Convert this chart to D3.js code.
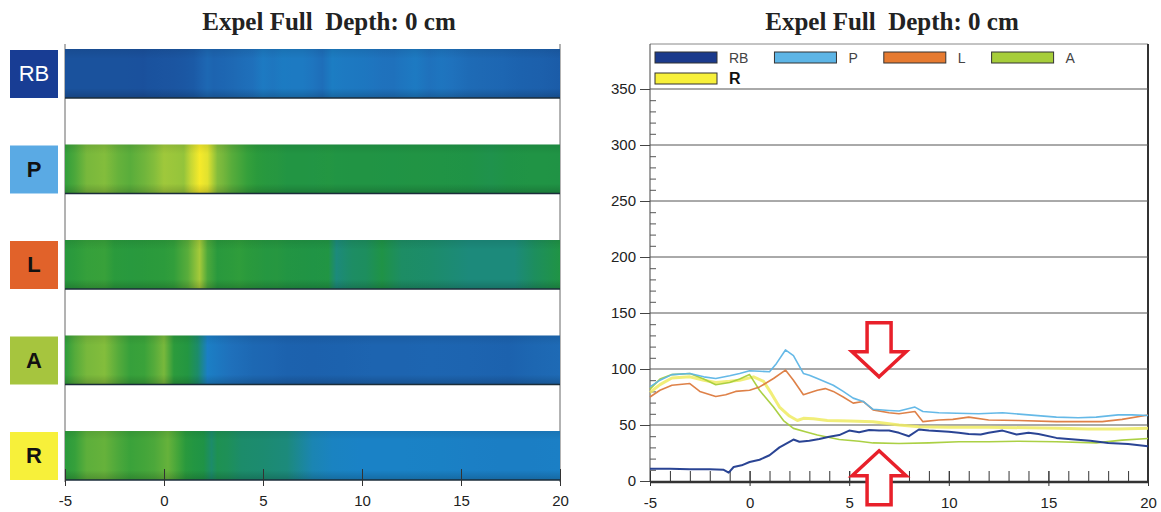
<!DOCTYPE html>
<html>
<head>
<meta charset="utf-8">
<script src="https://cdn.jsdelivr.net/npm/d3@7"></script>
<style>
  html, body { margin: 0; padding: 0; background: #fff; }
  svg { display: block; }
  text { font-family: Arial, "Liberation Sans", sans-serif; }
  .title { font-family: "Liberation Serif", "Times New Roman", serif; font-weight: bold; white-space: pre; }
</style>
</head>
<body>
<svg id="chart" width="1161" height="512"></svg>
<script>
// ---------------- DATA ----------------
const TITLE = "Expel Full  Depth: 0 cm";
const categories = ["RB", "P", "L", "A", "R"];
const xTicks = [-5, 0, 5, 10, 15, 20];
const yTicks = [0, 50, 100, 150, 200, 250, 300, 350];

// [depth, value] pairs
const RB = [[-5,11],[-4,11],[-3,10.5],[-2,10.5],[-1.3,10],[-1.05,7.5],[-0.8,12.5],[-0.4,14],[0,17],[0.5,19],[1,23],[1.5,30],[2,35],[2.2,37],[2.5,35],[3,36],[3.5,37.5],[4,39.5],[4.5,41],[5,45],[5.5,43.5],[6,45.5],[6.5,45],[7,45],[7.5,43],[8,40],[8.5,46],[9,45],[10,44],[10.5,43],[11,42],[11.6,41.5],[12,43],[12.7,45],[13.4,41.5],[14,43],[14.5,42],[15.4,38.5],[16,37.5],[17.1,36],[18,34],[19,33],[20,31]];
const P = [[-5,84],[-4.5,90],[-3.9,95],[-3,96],[-2.3,93],[-1.7,91.5],[-1,94],[-0.5,96],[0,98.5],[0.5,98],[1,97.5],[1.35,105],[1.8,117],[2.2,112],[2.7,96],[3,94.5],[3.4,91.5],[4.2,85.5],[4.7,80],[5.2,74],[5.7,71],[6.2,64],[7,63],[7.5,62.5],[8.3,66],[8.7,62],[9.5,61],[10.4,60.5],[11.5,60],[12.7,61],[14,59],[15.4,57],[16.5,56.5],[17.4,57],[18.5,59],[19.2,59],[20,58.5]];
const L = [[-5,75],[-4.5,81],[-3.9,85.5],[-3,87],[-2.5,80],[-1.7,75.5],[-1.2,77],[-0.7,80],[0,81],[0.5,84],[1.2,91.5],[1.8,99],[2.2,90],[2.7,77],[3.4,81],[3.8,82.5],[4.2,80],[4.7,75],[5.2,69.5],[5.7,71],[6.2,63.5],[7,61],[7.5,60],[8.3,62],[8.7,53],[9.5,54.5],[10.2,55],[11,57],[12,54.5],[13.5,54],[15.4,53],[17.7,53],[18.7,55],[20,59]];
const A = [[-5,82],[-4.5,91],[-3.9,95],[-3,96],[-2.3,91],[-1.7,86],[-1,88],[-0.5,91],[0,95],[0.5,81],[1.2,66],[1.7,54],[2.2,47],[2.8,44],[3.4,41],[4.5,37],[5.5,35.5],[6.2,34],[7.5,33.5],[9,34],[10.5,35],[12,35],[13.5,35.5],[15.4,35],[17.4,34],[18.7,36.5],[20,38]];
const R = [[-5,79],[-4.5,86],[-3.9,92],[-3,93],[-2.3,90],[-1.7,88],[-1,89],[-0.5,90],[0.2,93],[0.7,89],[1.1,78],[1.5,66],[2,58],[2.4,54],[2.7,56],[3.2,55.5],[3.9,54],[5,53.5],[6.2,53],[7.5,50],[8.5,48.5],[10,48],[12,48],[14,47.5],[15.5,47],[17,46.5],[18.5,46.5],[20,47]];

// annotation arrows (tip position in data units)
const arrowTips = [[6.5, 93, "down"], [6.5, 27, "up"]];

// ---------------- STYLE ----------------
const seriesData = { RB, P, L, A, R };
const lineColor = { RB: "#1f3a8e", P: "#5db5e6", L: "#dc7a3e", A: "#a6cd3a", R: "#efeb62" };
const lineWidth = { RB: 2, P: 1.6, L: 1.6, A: 1.6, R: 3 };
const boxColor  = { RB: "#183d94", P: "#5aaae4", L: "#e1622a", A: "#a6c53e", R: "#f7f03a" };
const boxText   = { RB: "#ffffff", P: "#111", L: "#111", A: "#111", R: "#111" };
const legendFill = { RB: "#1b3a8c", P: "#5db5e6", L: "#e67a30", A: "#a6cd3a", R: "#f7f03a" };
const heat = d3.scaleLinear()
  .domain([0, 30, 42, 48, 51, 53.5, 57, 80, 88, 95, 100, 117])
  .range(["#1a4d98", "#1b5aa6", "#1f72bd", "#1a82c6", "#1b86a8", "#1c8b70", "#1f9346", "#2a9a3c", "#3aa23a", "#78b83c", "#b0cf3a", "#f6ea2a"])
  .clamp(true);

const svg = d3.select("#chart");
const defs = svg.append("defs");
const fmt = d => String(d);

// ---------------- LEFT PANEL (heat strips) ----------------
const xL = d3.scaleLinear().domain([-5, 20]).range([65, 560]);
const band = d3.scaleBand().domain(categories).range([49, 480]).paddingInner(0.487).paddingOuter(0);

svg.append("text").attr("class", "title").attr("x", 329).attr("y", 30)
  .attr("text-anchor", "middle").attr("font-size", 25).attr("fill", "#222").text(TITLE);

// frame verticals
svg.append("g").selectAll("line").data(xL.domain()).join("line")
  .attr("x1", d => xL(d)).attr("x2", d => xL(d)).attr("y1", 44).attr("y2", 482)
  .attr("stroke", "#666").attr("stroke-width", 1);

categories.forEach(c => {
  const g = defs.append("linearGradient").attr("id", "g-" + c)
    .attr("x1", "0%").attr("x2", "100%").attr("y1", "0%").attr("y2", "0%");
  seriesData[c].forEach(([xv, v]) => {
    g.append("stop").attr("offset", ((xv - xL.domain()[0]) / (xL.domain()[1] - xL.domain()[0]) * 100) + "%")
      .attr("stop-color", heat(v));
  });
});
const shade = defs.append("linearGradient").attr("id", "shade")
  .attr("x1", "0%").attr("x2", "0%").attr("y1", "0%").attr("y2", "100%");
shade.append("stop").attr("offset", "0%").attr("stop-color", "#000").attr("stop-opacity", 0.08);
shade.append("stop").attr("offset", "20%").attr("stop-color", "#000").attr("stop-opacity", 0);
shade.append("stop").attr("offset", "80%").attr("stop-color", "#000").attr("stop-opacity", 0);
shade.append("stop").attr("offset", "100%").attr("stop-color", "#000").attr("stop-opacity", 0.18);

const strips = svg.append("g").selectAll("g").data(categories).join("g");
strips.append("rect")
  .attr("x", xL(-5)).attr("width", xL(20) - xL(-5))
  .attr("y", d => band(d)).attr("height", band.bandwidth())
  .attr("fill", d => `url(#g-${d})`);
strips.append("rect")
  .attr("x", xL(-5)).attr("width", xL(20) - xL(-5))
  .attr("y", d => band(d)).attr("height", band.bandwidth())
  .attr("fill", "url(#shade)");
strips.append("line")
  .attr("x1", xL(-5)).attr("x2", xL(20))
  .attr("y1", d => band(d) + band.bandwidth()).attr("y2", d => band(d) + band.bandwidth())
  .attr("stroke", "#1b2d3a").attr("stroke-width", 1.5);

// label boxes
const boxes = svg.append("g").selectAll("g").data(categories).join("g");
boxes.append("rect").attr("x", 10).attr("width", 48)
  .attr("y", d => band(d) + 1).attr("height", band.bandwidth() - 1)
  .attr("fill", d => boxColor[d]);
boxes.append("text").attr("x", 34).attr("y", d => band(d) + band.bandwidth() / 2)
  .attr("dy", "0.36em").attr("text-anchor", "middle")
  .attr("font-size", 22).attr("font-weight", d => d === "RB" ? "normal" : "bold")
  .attr("fill", d => boxText[d]).text(d => d);

// left x axis
const axL = svg.append("g").attr("transform", `translate(0,${band("R") + band.bandwidth()})`)
  .call(d3.axisBottom(xL).tickValues(xTicks).tickFormat(fmt).tickSize(6).tickPadding(9).tickSizeOuter(0));
axL.select(".domain").remove();
axL.selectAll(".tick line").attr("stroke", "#333").attr("y1", -11);
axL.selectAll(".tick text").attr("font-size", 15).attr("fill", "#222").attr("font-family", "Arial, sans-serif");

// ---------------- RIGHT PANEL (line chart) ----------------
const x = d3.scaleLinear().domain([-5, 20]).range([650, 1148]);
const y = d3.scaleLinear().domain([0, 350]).range([481, 89]);
const frameTop = 44;

svg.append("text").attr("class", "title").attr("x", 892).attr("y", 30)
  .attr("text-anchor", "middle").attr("font-size", 25).attr("fill", "#222").text(TITLE);

// frame
svg.append("line").attr("x1", x(-5)).attr("x2", x(20)).attr("y1", frameTop).attr("y2", frameTop)
  .attr("stroke", "#888").attr("stroke-width", 1);
svg.append("line").attr("x1", x(20)).attr("x2", x(20)).attr("y1", frameTop).attr("y2", y(0))
  .attr("stroke", "#333").attr("stroke-width", 2);
svg.append("line").attr("x1", x(-5)).attr("x2", x(-5)).attr("y1", frameTop).attr("y2", y(0))
  .attr("stroke", "#444").attr("stroke-width", 1);

// gridlines
svg.append("g").selectAll("line").data(yTicks.filter(v => v > 0)).join("line")
  .attr("x1", x(-5)).attr("x2", x(20)).attr("y1", d => y(d)).attr("y2", d => y(d))
  .attr("stroke", "#555").attr("stroke-width", 1);

// y axis (major ticks outward + labels)
const ay = svg.append("g").attr("transform", `translate(${x(-5)},0)`)
  .call(d3.axisLeft(y).tickValues(yTicks).tickFormat(fmt).tickSize(10).tickPadding(4).tickSizeOuter(0));
ay.select(".domain").remove();
ay.selectAll(".tick line").attr("stroke", "#444");
ay.selectAll(".tick text").attr("font-size", 15).attr("fill", "#222").attr("font-family", "Arial, sans-serif");

// y minor ticks (inward)
const ayMinor = svg.append("g").attr("transform", `translate(${x(-5)},0)`)
  .call(d3.axisRight(y).tickValues(d3.range(10, 350, 10).filter(v => v % 50 !== 0)).tickSize(6).tickFormat(""));
ayMinor.select(".domain").remove();
ayMinor.selectAll(".tick line").attr("stroke", "#555");

// x minor ticks (inward, every 1)
const axMinor = svg.append("g").attr("transform", `translate(0,${y(0)})`)
  .call(d3.axisTop(x).tickValues(d3.range(-4, 20, 1)).tickSize(10).tickFormat(""));
axMinor.select(".domain").remove();
axMinor.selectAll(".tick line").attr("stroke", "#333");

// x axis
const ax = svg.append("g").attr("transform", `translate(0,${y(0)})`)
  .call(d3.axisBottom(x).tickValues(xTicks).tickFormat(fmt).tickSize(5).tickPadding(11).tickSizeOuter(0));
ax.select(".domain").remove();
ax.selectAll(".tick line").attr("stroke", "#333").attr("y1", -10);
ax.selectAll(".tick text").attr("font-size", 15).attr("fill", "#222").attr("font-family", "Arial, sans-serif");
svg.append("line").attr("x1", x(-5)).attr("x2", x(20)).attr("y1", y(0) + 1).attr("y2", y(0) + 1)
  .attr("stroke", "#333").attr("stroke-width", 2.5);

// lines
const lineGen = d3.line().x(d => x(d[0])).y(d => y(d[1])).curve(d3.curveLinear);
const drawOrder = ["R", "A", "L", "P", "RB"];
svg.append("g").selectAll("path").data(drawOrder).join("path")
  .attr("d", d => lineGen(seriesData[d]))
  .attr("fill", "none")
  .attr("stroke", d => lineColor[d])
  .attr("stroke-width", d => lineWidth[d])
  .attr("stroke-linejoin", "round")
  .attr("opacity", d => d === "R" ? 0.85 : 0.95);

// legend
const legend = svg.append("g");
const legendRows = [["RB", "P", "L", "A"], ["R"]];
legendRows.forEach((row, ri) => {
  let cx = 655;
  const cy = 57.5 + ri * 21;
  row.forEach(c => {
    const bold = c === "R";
    legend.append("rect").attr("x", cx).attr("y", cy - 5.5).attr("width", 62).attr("height", 11)
      .attr("fill", legendFill[c])
      .attr("stroke", "#333").attr("stroke-width", 1);
    const t = legend.append("text").attr("x", cx + 74).attr("y", cy).attr("dy", "0.36em")
      .attr("font-size", bold ? 16 : 14).attr("font-weight", bold ? "bold" : "normal")
      .attr("fill", bold ? "#111" : "#444").text(c);
    cx += 74 + t.node().getComputedTextLength() + 26;
  });
});

// red annotation arrows
const arrowShape = (tx, ty, dir) => {
  const s = dir === "down" ? -1 : 1; // body extends away from tip
  const hw = 27, hh = 25, sw = 12, sl = 29;
  const pts = [
    [tx, ty],
    [tx + hw, ty + s * hh],
    [tx + sw, ty + s * hh],
    [tx + sw, ty + s * (hh + sl)],
    [tx - sw, ty + s * (hh + sl)],
    [tx - sw, ty + s * hh],
    [tx - hw, ty + s * hh]
  ];
  return "M" + pts.map(p => p.join(",")).join("L") + "Z";
};
svg.append("g").selectAll("path").data(arrowTips).join("path")
  .attr("d", d => arrowShape(x(d[0]), y(d[1]), d[2]))
  .attr("fill", "#fff").attr("stroke", "#e8202a").attr("stroke-width", 3.5)
  .attr("stroke-linejoin", "miter");
</script>
</body>
</html>
